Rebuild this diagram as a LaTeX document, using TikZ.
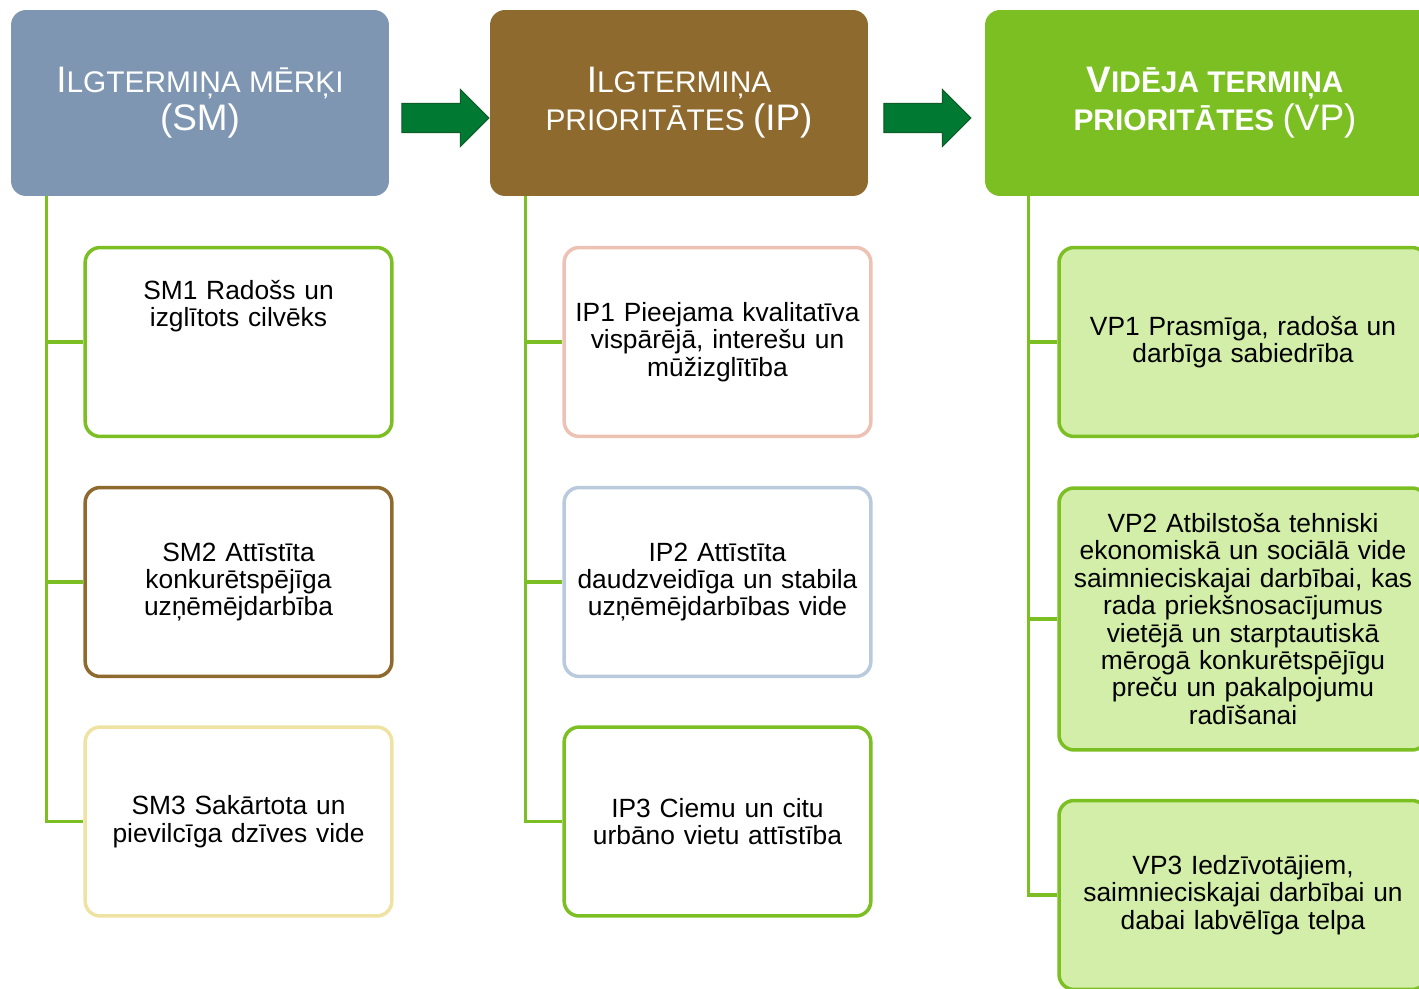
\documentclass[tikz,border=0pt]{standalone}
\usepackage{fontspec}
\setmainfont{Liberation Sans}
\usetikzlibrary{shapes.arrows,positioning}

\definecolor{smblue}{HTML}{7F96B2}
\definecolor{ipbrown}{HTML}{8F6A2E}
\definecolor{vpgreen}{HTML}{7CBF22}
\definecolor{vplight}{HTML}{D2EEA8}
\definecolor{sunyellow}{HTML}{EEE3A3}
\definecolor{rosepink}{HTML}{EDC2B5}
\definecolor{greyblue}{HTML}{B9CADC}
\definecolor{arrowgreen}{HTML}{007A33}
\definecolor{arrowedge}{HTML}{0E5C27}

\newcommand{\capbig}[1]{{\fontsize{21}{21.5}\selectfont #1}}

\begin{document}
\begin{tikzpicture}[
    x=0.02cm, y=-0.02cm,
    hdr/.style={rounded corners=0.3cm, minimum width=7.56cm, minimum height=3.72cm,
      inner sep=0pt, text=white, align=center, font=\fontsize{17}{21.5}\selectfont},
    goalbox/.style={draw=vpgreen, line width=2pt, rounded corners=0.3cm, fill=white,
      minimum width=6.08cm, minimum height=3.78cm, text width=5.9cm, align=center,
      font=\fontsize{15}{15.6}\selectfont},
    vpbox/.style={goalbox, fill=vplight, minimum width=7.36cm, text width=7.1cm},
    conn/.style={draw=vpgreen, line width=1.8pt},
    flow/.style={single arrow, fill=arrowgreen, draw=arrowedge, line width=0.6pt,
      minimum height=1.74cm, inner xsep=0pt, inner ysep=0.28cm,
      single arrow head extend=0.28cm, single arrow tip angle=90, anchor=tip}
   ]
   \path[use as bounding box, clip] (0,0) rectangle (1419,989);

   % headers
   \node[hdr, fill=smblue] (sm) at (200,103)
     {\capbig{I}LGTERMIŅA MĒRĶI\\\capbig{(SM)}};
   \node[hdr, fill=ipbrown] (ip) at (679,103)
     {\capbig{I}LGTERMIŅA\\PRIORITĀTES \capbig{(IP)}};
   \node[hdr, fill=vpgreen, minimum width=9.2cm] (vp) at (1215,103)
     {\textbf{\capbig{V}IDĒJA TERMIŅA}\\\textbf{PRIORITĀTES} \capbig{(VP)}};

   \node[flow] (flow1) at ([yshift=-0.3cm]ip.west) {};
   \node[flow] (flow2) at ([xshift=-0.26cm,yshift=-0.3cm]vp.west) {};

   % SM column
   \node[goalbox] (sm1) at (238.5,342) {SM1 Radošs un\\izglītots cilvēks\\[0.99cm]\mbox{}};
   \node[goalbox, draw=ipbrown] (sm2) at (238.5,582) {SM2 Attīstīta\\konkurētspējīga\\uzņēmējdarbība};
   \node[goalbox, draw=sunyellow] (sm3) at (238.5,821.5) {SM3 Sakārtota un\\pievilcīga dzīves vide};

   % IP column
   \node[goalbox, draw=rosepink] (ip1) at (717.5,342) {IP1 Pieejama kvalitatīva\\vispārējā, interešu un\\mūžizglītība};
   \node[goalbox, draw=greyblue] (ip2) at (717.5,582) {IP2 Attīstīta\\daudzveidīga un stabila\\uzņēmējdarbības vide};
   \node[goalbox] (ip3) at (717.5,821.5) {IP3 Ciemu un citu\\urbāno vietu attīstība};

   % VP column
   \node[vpbox] (vp1) at (1243,342) {VP1 Prasmīga, radoša un\\darbīga sabiedrība};
   \node[vpbox, minimum height=5.24cm] (vp2) at (1243,619) {VP2 Atbilstoša tehniski\\ekonomiskā un sociālā vide\\saimnieciskajai darbībai, kas\\rada priekšnosacījumus\\vietējā un starptautiskā\\mērogā konkurētspējīgu\\preču un pakalpojumu\\radīšanai};
   \node[vpbox] (vp3) at (1243,895) {VP3 Iedzīvotājiem,\\saimnieciskajai darbībai un\\dabai labvēlīga telpa};

   \coordinate (smspine) at ([xshift=0.72cm]sm.south west);
   \coordinate (ipspine) at ([xshift=0.72cm]ip.south west);
   \coordinate (vpspine) at ([xshift=0.88cm]vp.south west);

   \draw[conn] (smspine) |- (sm1.west) (smspine) |- (sm2.west) (smspine) |- (sm3.west);
   \draw[conn] (ipspine) |- (ip1.west) (ipspine) |- (ip2.west) (ipspine) |- (ip3.west);
   \draw[conn] (vpspine) |- (vp1.west) (vpspine) |- (vp2.west) (vpspine) |- (vp3.west);
  \end{tikzpicture}
\end{document}
